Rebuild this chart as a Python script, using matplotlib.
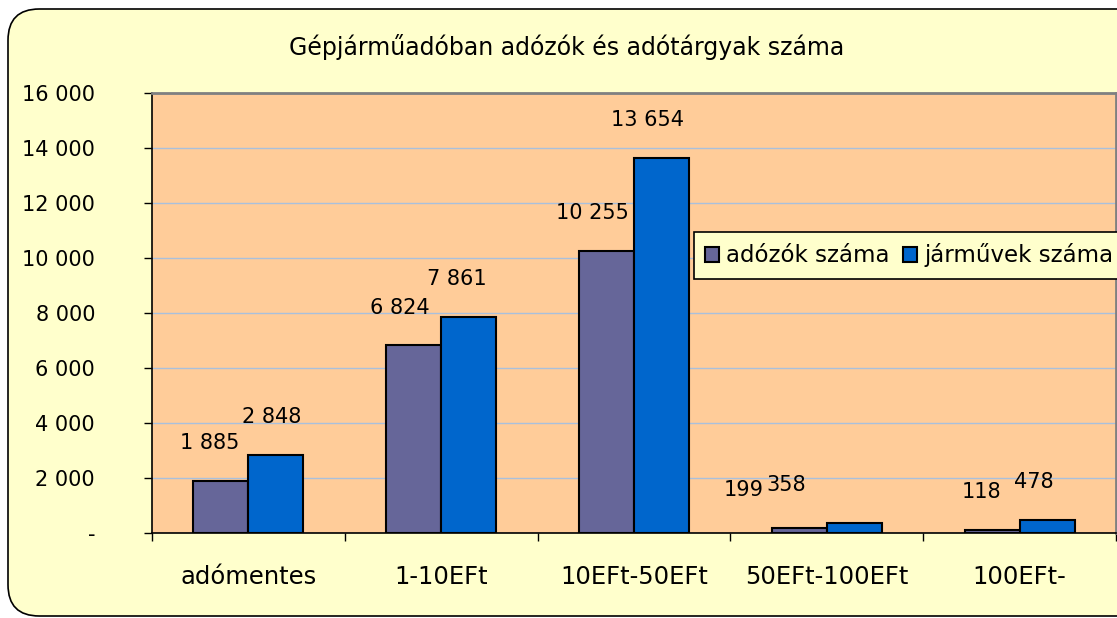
import numpy as np
import matplotlib
matplotlib.use('Agg')
import matplotlib.pyplot as plt
from matplotlib.patches import FancyBboxPatch

# data
categories = ['adómentes', '1-10EFt', '10EFt-50EFt', '50EFt-100EFt', '100EFt-']
adozok = [1885, 6824, 10255, 199, 118]
jarmuvek = [2848, 7861, 13654, 358, 478]
series_names = ['adózók száma', 'járművek száma']
title = 'Gépjárműadóban adózók és adótárgyak száma'

def fmt(v):
    # hungarian style: space as thousands separator, zero shown as "-"
    if v == 0:
        return '-'
    return '{:,}'.format(int(v)).replace(',', ' ')

plt.rcParams['font.family'] = ['DejaVu Sans']

fig = plt.figure(figsize=(11.17, 6.18), dpi=100)
fig.patch.set_facecolor('white')

# rounded outer frame, behind everything else
frame = FancyBboxPatch((8 / 1117, 2 / 618), 1.2, (609 - 2) / 618,
                       boxstyle='round,pad=0,rounding_size=0.028',
                       transform=fig.transFigure, facecolor='#FFFFCC',
                       edgecolor='black', linewidth=1.2, mutation_aspect=1117 / 618,
                       zorder=-10)
fig.patches.append(frame)

ax = fig.add_axes([152 / 1117, 85 / 618, 964 / 1117, 440 / 618])
ax.set_facecolor('#FFCC99')
ax.set_zorder(1)

x = np.arange(len(categories))
w = 0.2857
b1 = ax.bar(x - w / 2, adozok, w, color='#666699', edgecolor='black', linewidth=1.5,
            label=series_names[0], zorder=3)
b2 = ax.bar(x + w / 2, jarmuvek, w, color='#0066CC', edgecolor='black', linewidth=1.5,
            label=series_names[1], zorder=3)

# value labels (sit a little left of bar centres, like in the original)
shift1 = [-11, -14, -14, -56, -11]
shift2 = [-4, -12, -14, -68, -13]
for bars, vals, sh in ((b1, adozok, shift1), (b2, jarmuvek, shift2)):
    for r, v, s in zip(bars, vals, sh):
        ax.annotate(fmt(v), (r.get_x() + r.get_width() / 2, v),
                    xytext=(s * 0.72, 20), textcoords='offset points',
                    ha='center', va='bottom', fontsize=15, zorder=5)

ax.set_xlim(-0.5, len(categories) - 0.5)
ax.set_ylim(0, 16000)
yt = np.arange(0, 16001, 2000)
ax.set_yticks(yt)
ax.set_yticklabels([fmt(v) for v in yt], fontsize=15)
ax.tick_params(axis='y', length=6, width=1, pad=35, direction='out')
ax.grid(axis='y', color='#A9C0DC', linewidth=1, zorder=0)

ax.set_xticks(np.arange(len(categories) + 1) - 0.5)
ax.set_xticklabels([])
ax.set_xticks(x, minor=True)
ax.set_xticklabels(categories, minor=True, fontsize=17.5)
ax.tick_params(axis='x', which='major', length=6, width=1, direction='out')
ax.tick_params(axis='x', which='minor', length=0, pad=23)

for s in ('left', 'bottom'):
    ax.spines[s].set_color('black')
    ax.spines[s].set_linewidth(1.2)
for s in ('top', 'right'):
    ax.spines[s].set_color('#808080')
    ax.spines[s].set_linewidth(2)

fig.text(567 / 1117, 1 - 47 / 618, title, ha='center', va='center', fontsize=17)

leg = ax.legend(loc='upper left', bbox_to_anchor=(694 / 1117, 1 - 232 / 618),
                bbox_transform=fig.transFigure,
                ncol=2, fontsize=16.5, frameon=True, fancybox=False,
                handlelength=0.6, handleheight=0.6, handletextpad=0.3,
                columnspacing=0.6, borderpad=0.5, borderaxespad=0)
leg.get_frame().set_facecolor('#FFFFCC')
leg.get_frame().set_edgecolor('black')
leg.get_frame().set_linewidth(1.2)
leg.get_frame().set_alpha(1)
leg.set_zorder(10)

fig.savefig('out.png', dpi=100)
